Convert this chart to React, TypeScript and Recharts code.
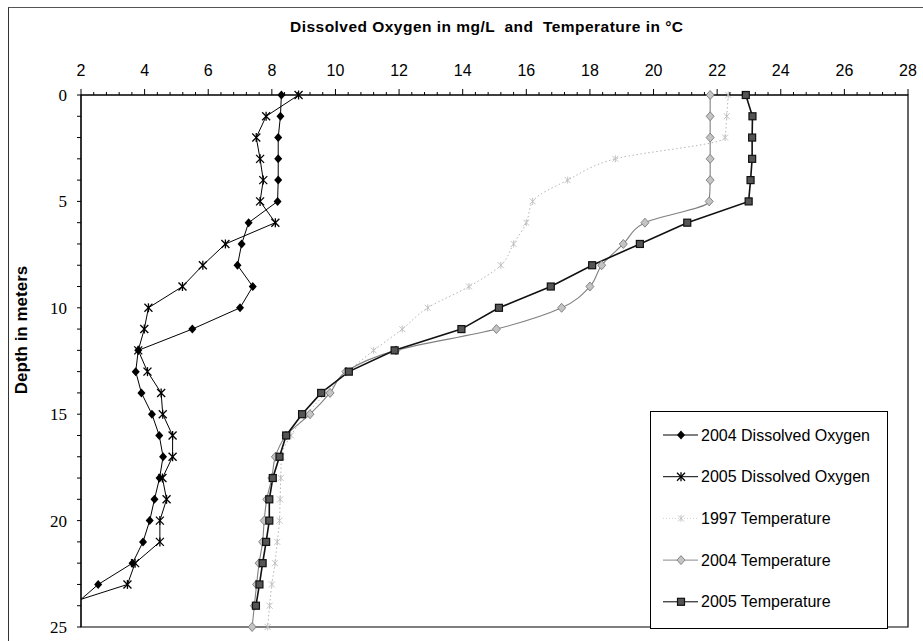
import React from "react";
import { LineChart, Line, XAxis, YAxis, Legend, ReferenceArea, Label } from "recharts";

// depth in meters (category axis, drawn vertically)
const depths = [0, 1, 2, 3, 4, 5, 6, 7, 8, 9, 10, 11, 12, 13, 14, 15, 16, 17, 18, 19, 20, 21, 22, 23, 24, 25];

// dissolved oxygen, mg/L
const do2004 = [8.3, 8.27, 8.2, 8.2, 8.2, 8.18, 7.27, 7.05, 6.92, 7.4, 7.0, 5.5, 3.8, 3.72, 3.9, 4.23, 4.46, 4.58, 4.47, 4.31, 4.16, 3.95, 3.62, 2.54, 1.77, null];
const do2005 = [8.84, 7.82, 7.51, 7.63, 7.73, 7.63, 8.11, 6.54, 5.83, 5.19, 4.12, 3.99, 3.8, 4.09, 4.52, 4.57, 4.88, 4.88, 4.56, 4.69, 4.48, 4.48, 3.7, 3.46, 1.37, null];

// temperature, °C
const t1997 = [22.35, 22.3, 22.25, 18.8, 17.3, 16.2, 16.0, 15.6, 15.2, 14.2, 12.9, 12.1, 11.2, 10.4, 9.7, 9.1, 8.6, 8.3, 8.28, 8.26, 8.24, 8.17, 8.1, 8.0, 7.93, 7.87];
const t2004 = [21.78, 21.78, 21.78, 21.78, 21.78, 21.75, 19.73, 19.05, 18.37, 18.0, 17.11, 15.06, 11.9, 10.33, 9.83, 9.2, 8.45, 8.11, 8.0, 7.84, 7.76, 7.71, 7.6, 7.52, 7.45, 7.38];
const t2005 = [22.9, 23.11, 23.1, 23.1, 23.05, 22.99, 21.06, 19.57, 18.07, 16.77, 15.14, 13.96, 11.86, 10.42, 9.55, 8.95, 8.45, 8.24, 8.03, 7.92, 7.92, 7.82, 7.71, 7.61, 7.5, null];

const xLabels = [2, 4, 6, 8, 10, 12, 14, 16, 18, 20, 22, 24, 26, 28];
const depthLabels = [0, 5, 10, 15, 20, 25];

const X_MIN = 2;
const X_MAX = 28;

// minor ticks every 0.4 along the top axis
const xTicks: number[] = [];
for (let i = 0; i <= 65; i++) xTicks.push(Math.round((X_MIN + i * 0.4) * 10) / 10);

// markers that fall left of the axis are left out; their line is still clipped at the axis
const onScale = (v: number | null) => (v != null && v >= X_MIN ? v : null);

const data = depths.map((depth, i) => ({
  depth,
  do2004: do2004[i],
  do2005: do2005[i],
  do2004m: onScale(do2004[i]),
  do2005m: onScale(do2005[i]),
  t1997: t1997[i],
  t2004: t2004[i],
  t2005: t2005[i],
}));

const W = 923;
const H = 641;
const margin = { top: 55, right: 15, bottom: 14, left: 41 };
const X_AXIS_H = 40;
const Y_AXIS_W = 40;
const AXIS_TOP = margin.top + X_AXIS_H;
const AXIS_LEFT = margin.left + Y_AXIS_W;

const SANS = "'Liberation Sans', Arial, sans-serif";
const SERIF = "'Liberation Serif', 'Times New Roman', serif";

type MarkProps = { cx: number; cy: number };

const BlackDiamond = ({ cx, cy }: MarkProps) => (
  <polygon points={`${cx},${cy - 4.5} ${cx + 4},${cy} ${cx},${cy + 4.5} ${cx - 4},${cy}`} fill="#000" />
);

const Asterisk = ({ cx, cy }: MarkProps) => (
  <g stroke="#000" strokeWidth={1.3}>
    <line x1={cx - 4} y1={cy - 4} x2={cx + 4} y2={cy + 4} />
    <line x1={cx - 4} y1={cy + 4} x2={cx + 4} y2={cy - 4} />
    <line x1={cx} y1={cy - 4.5} x2={cx} y2={cy + 4.5} />
  </g>
);

const FaintStar = ({ cx, cy }: MarkProps) => (
  <g stroke="#bdbdbd" strokeWidth={0.9}>
    <line x1={cx - 3} y1={cy - 3} x2={cx + 3} y2={cy + 3} />
    <line x1={cx - 3} y1={cy + 3} x2={cx + 3} y2={cy - 3} />
    <line x1={cx} y1={cy - 3.5} x2={cx} y2={cy + 3.5} />
  </g>
);

const GrayDiamond = ({ cx, cy }: MarkProps) => (
  <polygon
    points={`${cx},${cy - 4.5} ${cx + 4},${cy} ${cx},${cy + 4.5} ${cx - 4},${cy}`}
    fill="#c4c4c4"
    stroke="#7a7a7a"
    strokeWidth={0.9}
  />
);

const DarkSquare = ({ cx, cy }: MarkProps) => (
  <rect x={cx - 3.5} y={cy - 3.5} width={7} height={7} fill="#555" stroke="#111" strokeWidth={1.2} />
);

function dotOf(Mark: (p: MarkProps) => React.ReactElement) {
  return (props: any) => {
    const { cx, cy, index } = props;
    if (cx == null || cy == null || Number.isNaN(cx) || Number.isNaN(cy)) return <g key={`m-${index}`} />;
    return (
      <g key={`m-${index}`}>
        <Mark cx={cx} cy={cy} />
      </g>
    );
  };
}

function XTick(props: any) {
  const { x, payload } = props;
  const v = payload.value;
  const major = xLabels.some((l) => Math.abs(l - v) < 1e-6);
  return (
    <g>
      <line x1={x} x2={x} y1={AXIS_TOP} y2={AXIS_TOP - (major ? 6 : 3)} stroke="#000" />
      {major && (
        <text x={x} y={AXIS_TOP - 19} textAnchor="middle" fontSize={16} fontFamily={SANS} fill="#000">
          {Math.round(v)}
        </text>
      )}
    </g>
  );
}

function YTick(props: any) {
  const { y, payload } = props;
  const v = payload.value;
  return (
    <g>
      <line x1={AXIS_LEFT} x2={AXIS_LEFT - 4} y1={y} y2={y} stroke="#000" />
      {depthLabels.includes(v) && (
        <text x={AXIS_LEFT - 14} y={y + 6} textAnchor="end" fontSize={17} fontFamily={SERIF} fill="#000">
          {v}
        </text>
      )}
    </g>
  );
}

const legendItems = [
  { label: "2004 Dissolved Oxygen", Mark: BlackDiamond, stroke: "#000", dash: undefined as string | undefined },
  { label: "2005 Dissolved Oxygen", Mark: Asterisk, stroke: "#000", dash: undefined },
  { label: "1997 Temperature", Mark: FaintStar, stroke: "#d0d0d0", dash: "1 2" },
  { label: "2004 Temperature", Mark: GrayDiamond, stroke: "#8a8a8a", dash: undefined },
  { label: "2005 Temperature", Mark: DarkSquare, stroke: "#000", dash: undefined },
];

function LegendBox() {
  return (
    <svg width={238} height={218} style={{ display: "block" }}>
      <rect x={0.5} y={0.5} width={237} height={217} fill="#fff" stroke="#000" />
      {legendItems.map((it, i) => {
        const cy = 24 + i * 41.7;
        return (
          <g key={it.label}>
            <line x1={13} x2={48} y1={cy} y2={cy} stroke={it.stroke} strokeDasharray={it.dash} />
            <it.Mark cx={31} cy={cy} />
            <text x={51} y={cy + 5.5} fontSize={16} fontFamily={SANS} fill="#000">
              {it.label}
            </text>
          </g>
        );
      })}
    </svg>
  );
}

export default function App() {
  return (
    <div style={{ position: "absolute", left: 0, top: 0, width: W, height: H, background: "#fff" }}>
      <div
        style={{
          position: "absolute",
          left: 8,
          top: 7,
          width: W - 8,
          height: H - 7,
          borderLeft: "1.5px solid #333",
          borderTop: "1.5px solid #555",
          boxSizing: "border-box",
        }}
      />
      <LineChart width={W} height={H} data={data} layout="vertical" margin={margin}>
        <XAxis
          type="number"
          orientation="top"
          domain={[X_MIN, X_MAX]}
          ticks={xTicks}
          interval={0}
          height={X_AXIS_H}
          axisLine={{ stroke: "#000" }}
          tickLine={false}
          tick={XTick}
        >
          <Label
            content={() => (
              <text
                x={290}
                y={32}
                fontSize={15.5}
                fontWeight="bold"
                fontFamily={SANS}
                fill="#000"
                textLength={393}
                lengthAdjust="spacing"
                style={{ whiteSpace: "pre" }}
              >
                {"Dissolved Oxygen in mg/L  and  Temperature in °C"}
              </text>
            )}
          />
        </XAxis>
        <XAxis xAxisId="clip" type="number" orientation="top" domain={[X_MIN, X_MAX]} allowDataOverflow hide />
        <YAxis
          type="number"
          dataKey="depth"
          domain={[0, 25]}
          ticks={depths}
          interval={0}
          width={Y_AXIS_W}
          axisLine={{ stroke: "#000" }}
          tickLine={false}
          tick={YTick}
        >
          <Label
            content={() => (
              <text
                x={27}
                y={330}
                transform="rotate(-90, 27, 330)"
                textAnchor="middle"
                fontSize={17}
                fontWeight="bold"
                fontFamily={SANS}
                fill="#000"
              >
                Depth in meters
              </text>
            )}
          />
        </YAxis>
        <ReferenceArea x1={X_MIN} x2={X_MAX} y1={0} y2={25} fill="none" stroke="#000" strokeWidth={1.2} />

        <Line
          type="monotone"
          dataKey="t1997"
          stroke="#b5b5b5"
          strokeWidth={1}
          strokeDasharray="1.5 2.5"
          dot={dotOf(FaintStar)}
          activeDot={false}
          isAnimationActive={false}
        />
        <Line
          type="monotone"
          dataKey="t2004"
          stroke="#808080"
          strokeWidth={1.1}
          dot={dotOf(GrayDiamond)}
          activeDot={false}
          isAnimationActive={false}
        />
        <Line
          type="linear"
          dataKey="t2005"
          stroke="#111"
          strokeWidth={1.6}
          dot={dotOf(DarkSquare)}
          activeDot={false}
          isAnimationActive={false}
        />

        <Line xAxisId="clip" type="linear" dataKey="do2004" stroke="#000" strokeWidth={1} dot={false} activeDot={false} legendType="none" isAnimationActive={false} />
        <Line xAxisId="clip" type="linear" dataKey="do2005" stroke="#000" strokeWidth={1} dot={false} activeDot={false} legendType="none" isAnimationActive={false} />
        <Line type="linear" dataKey="do2004m" stroke="none" dot={dotOf(BlackDiamond)} activeDot={false} legendType="none" isAnimationActive={false} />
        <Line type="linear" dataKey="do2005m" stroke="none" dot={dotOf(Asterisk)} activeDot={false} legendType="none" isAnimationActive={false} />

        <Legend
          layout="vertical"
          align="center"
          verticalAlign="middle"
          wrapperStyle={{ left: 650, top: 411, width: 238, height: 218 }}
          content={LegendBox}
        />
      </LineChart>
    </div>
  );
}
